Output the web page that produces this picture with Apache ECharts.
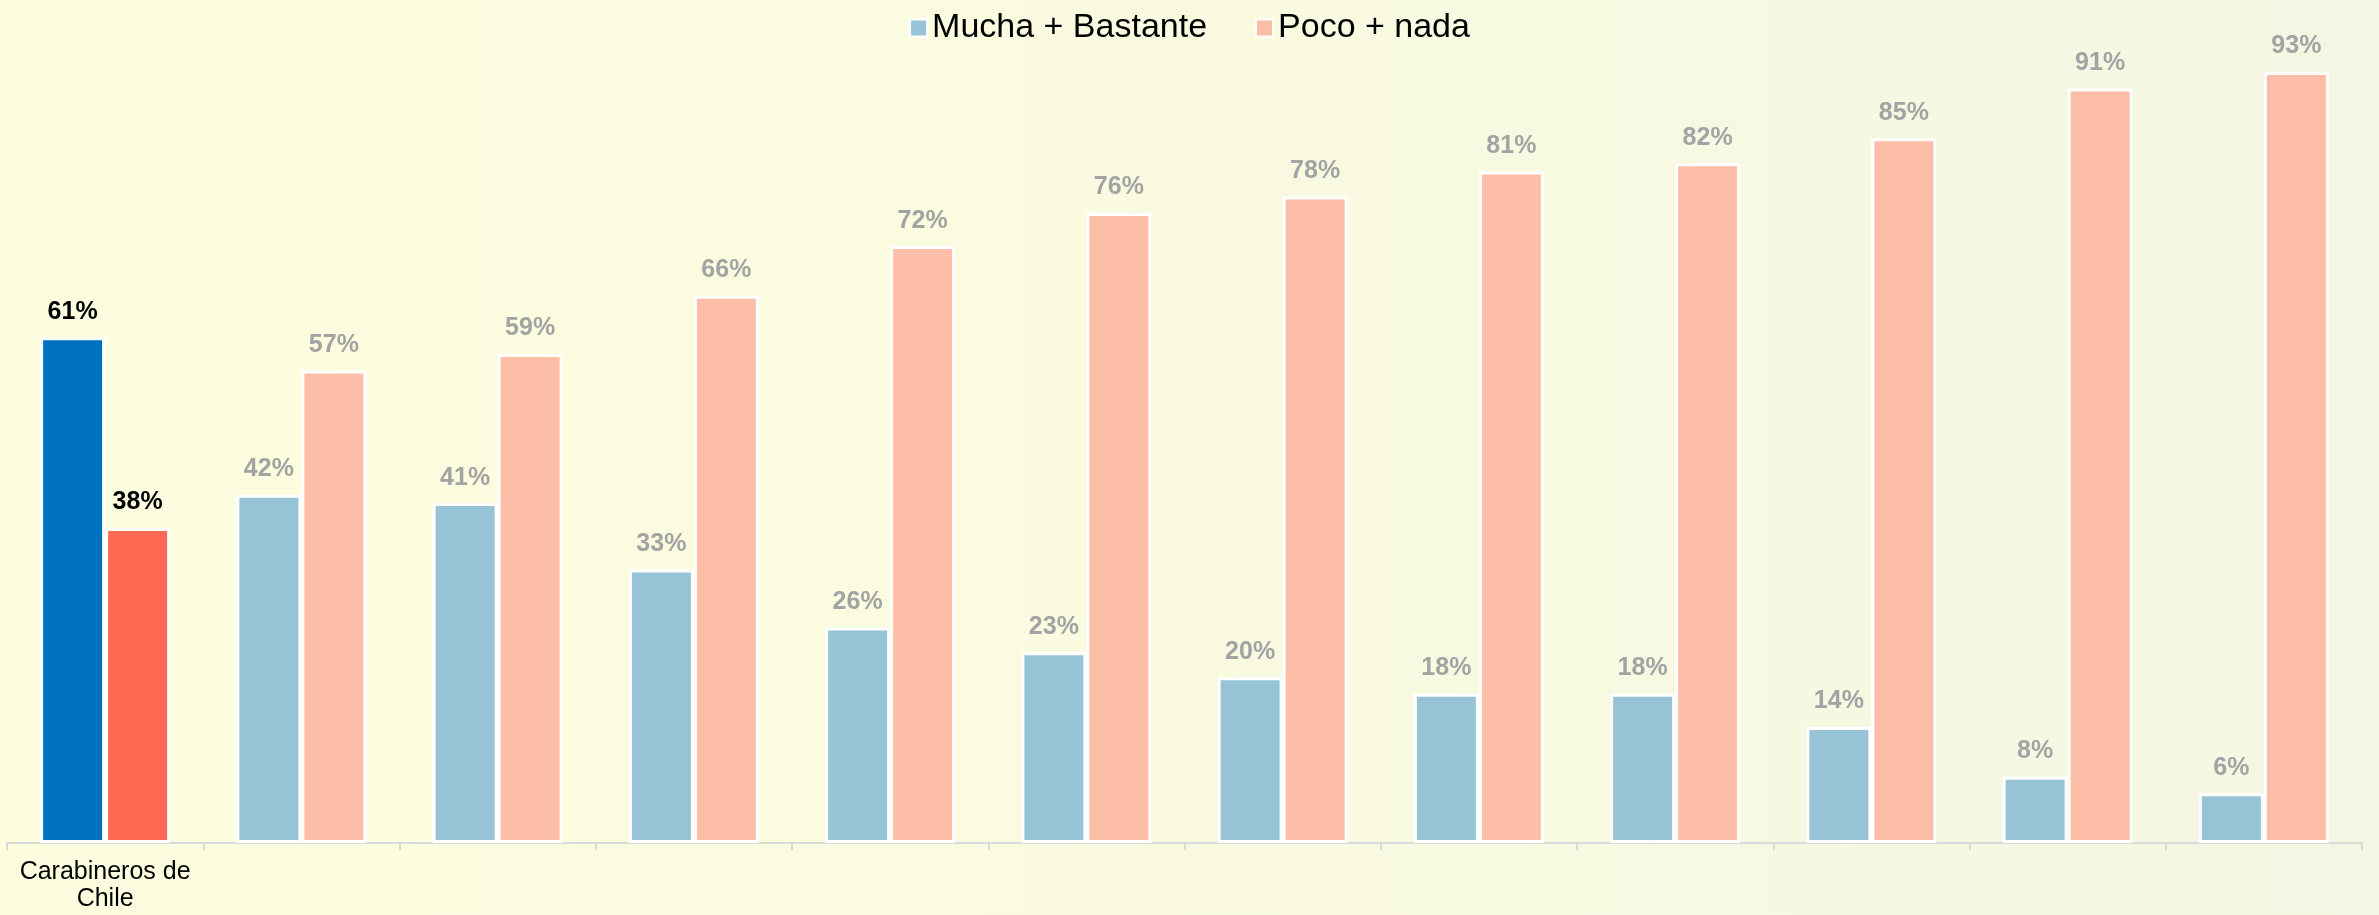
<!DOCTYPE html>
<html>
<head>
<meta charset="utf-8">
<script src="https://cdn.jsdelivr.net/npm/echarts@6/dist/echarts.min.js"></script>
<style>
  html, body { margin: 0; padding: 0; }
  #chart { width: 2379px; height: 915px; }
</style>
</head>
<body>
<div id="chart"></div>
<script>
// categorias (solo la primera lleva texto en el original)
const categories = ['Carabineros de\nChile', '', '', '', '', '', '', '', '', '', '', ''];
const seriesNames = ['Mucha + Bastante', 'Poco + nada'];
const muchaBastante = [61, 42, 41, 33, 26, 23, 20, 18, 18, 14, 8, 6];
const pocoNada = [38, 57, 59, 66, 72, 76, 78, 81, 82, 85, 91, 93];

const font = "'Liberation Sans', Arial, sans-serif";

// la primera categoria va destacada
function buildData(values, strongColor) {
  return values.map((v, i) => {
    if (i === 0) {
      return {
        value: v,
        itemStyle: { color: strongColor },
        label: { color: '#000' }
      };
    }
    return v;
  });
}

const myChart = echarts.init(document.getElementById('chart'));
myChart.setOption({
  animation: false,
  backgroundColor: {
    type: 'linear', x: 0, y: 0, x2: 1, y2: 0,
    colorStops: [
      { offset: 0, color: '#FDFEDF' },
      { offset: 0.3, color: '#FBFCDF' },
      { offset: 1, color: '#F4F6E3' }
    ]
  },
  legend: {
    data: seriesNames,
    top: 6,
    left: 'center',
    icon: 'rect',
    itemWidth: 17,
    itemHeight: 17,
    itemGap: 48,
    textStyle: { fontFamily: font, fontSize: 34, color: '#000' }
  },
  grid: { left: 7, right: 17, top: 14, bottom: 72 },
  xAxis: {
    type: 'category',
    data: categories,
    axisLine: { lineStyle: { color: '#D9D9D9', width: 2 } },
    axisTick: { show: true, length: 7, lineStyle: { color: '#D9D9D9', width: 2 } },
    axisLabel: {
      interval: 0,
      margin: 16,
      fontFamily: font,
      fontSize: 25,
      lineHeight: 27,
      color: '#000'
    }
  },
  yAxis: {
    type: 'value',
    min: 0,
    max: 100,
    show: false,
    splitLine: { show: false }
  },
  series: [
    {
      name: seriesNames[0],
      type: 'bar',
      barWidth: 65,
      barGap: '0%',
      data: buildData(muchaBastante, '#0070C0'),
      itemStyle: { color: '#96C3D5', borderColor: '#fff', borderWidth: 3 },
      label: {
        show: true,
        position: 'top',
        distance: 13,
        formatter: '{c}%',
        fontFamily: font,
        fontSize: 25,
        fontWeight: 'bold',
        color: '#A3A3A3'
      }
    },
    {
      name: seriesNames[1],
      type: 'bar',
      barWidth: 65,
      barGap: '0%',
      data: buildData(pocoNada, '#FF6852'),
      itemStyle: { color: '#FDBEA8', borderColor: '#fff', borderWidth: 3 },
      label: {
        show: true,
        position: 'top',
        distance: 13,
        formatter: '{c}%',
        fontFamily: font,
        fontSize: 25,
        fontWeight: 'bold',
        color: '#A3A3A3'
      }
    }
  ]
});
</script>
</body>
</html>
